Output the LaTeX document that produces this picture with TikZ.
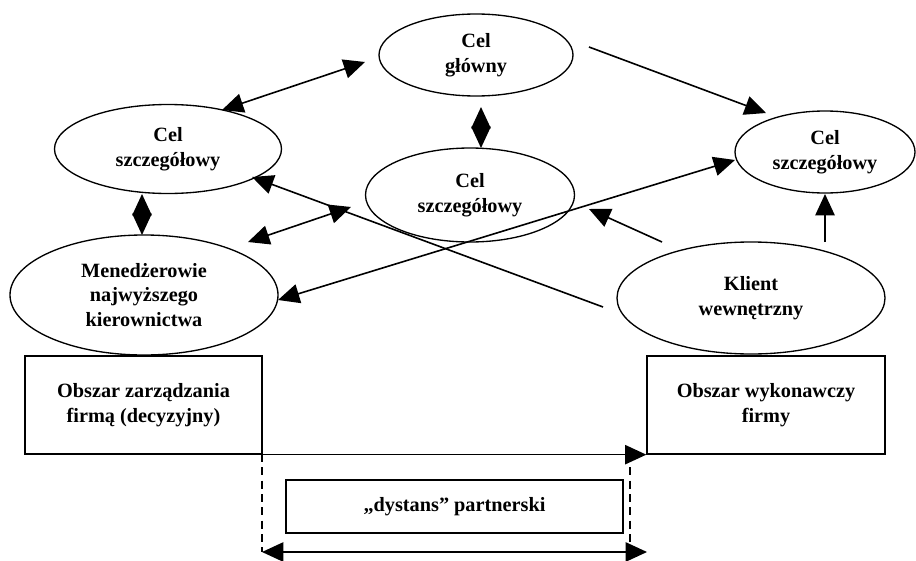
\documentclass[tikz,border=0pt]{standalone}
\usepackage{fontspec}
\setmainfont{Liberation Serif}[BoldFont={Liberation Serif Bold}]
\usetikzlibrary{shapes.geometric,arrows.meta}
\begin{document}
\begin{tikzpicture}[x=0.75pt,y=-0.75pt,
  every node/.style={font=\fontsize{15.2}{18.5}\selectfont\bfseries, align=center, inner sep=0pt},
  ell/.style={draw, ellipse, line width=1pt},
  box/.style={draw, rectangle, line width=1pt},
  conn/.style={line width=1.2pt, -{Triangle[length=16pt,width=14.5pt]}},
  conn2/.style={line width=1.2pt, {Triangle[length=16pt,width=14.5pt]}-{Triangle[length=16pt,width=14.5pt]}},
  dsh/.style={line width=1.2pt, dash pattern=on 6pt off 4pt}]
\useasboundingbox (0,0) rectangle (916,560);

% ellipses
\node[ell, minimum width=145.5pt, minimum height=61.5pt] (gl) at (476,55) {Cel\\główny};
\node[ell, minimum width=170.25pt, minimum height=66.75pt] (sl) at (168,149) {Cel\\szczegółowy};
\node[ell, minimum width=156.75pt, minimum height=70.5pt] (sm) at (470,195) {Cel\\szczegółowy};
\node[ell, minimum width=135pt, minimum height=61.5pt] (sr) at (825,152) {Cel\\szczegółowy};
\node[ell, minimum width=201pt, minimum height=90pt] (men) at (144,295) {Menedżerowie\\najwyższego\\kierownictwa};
\node[ell, minimum width=201pt, minimum height=84pt] (kl) at (751,298) {Klient\\wewnętrzny};

% boxes
\node[box, minimum width=177.75pt, minimum height=73.5pt] (oz) at (143.5,405) {Obszar zarządzania\\firmą (decyzyjny)};
\node[box, minimum width=178.5pt, minimum height=73.5pt] (ow) at (766,405) {Obszar wykonawczy\\firmy};
\node[box, minimum width=252.75pt, minimum height=39.75pt] (dy) at (454.5,506.5) {„dystans” partnerski};

% connector end points
\coordinate (sl-ne) at (222,110);
\coordinate (gl-w) at (365,62);
\coordinate (gl-e) at (589,47);
\coordinate (sr-nw) at (766,113);
\coordinate (gl-s) at (481,107);
\coordinate (sm-n) at (481,148);
\coordinate (sl-s) at (142,194);
\coordinate (men-n) at (142,235);
\coordinate (kl-ne) at (825,242);
\coordinate (sr-s) at (825,194);
\coordinate (kl-nw) at (662,242);
\coordinate (sm-se) at (589,209);
\coordinate (men-ne) at (248,242);
\coordinate (sm-w) at (351,207);
\coordinate (kl-w) at (603,307);
\coordinate (sl-se) at (252,177);
\coordinate (men-e) at (278,300);
\coordinate (sr-w) at (735,160);
\coordinate (dl-top) at (262,454);
\coordinate (dl-bot) at (262,552);
\coordinate (dr-top) at (630,454);
\coordinate (dr-bot) at (630,552);
\coordinate (ar-r) at (647,552);

% connectors
\draw[conn2] (sl-ne) -- (gl-w);
\draw[conn] (gl-e) -- (sr-nw);
\draw[conn2] (gl-s) -- (sm-n);
\draw[conn2] (sl-s) -- (men-n);
\draw[conn] (kl-ne) -- (sr-s);
\draw[conn] (kl-nw) -- (sm-se);
\draw[conn2] (men-ne) -- (sm-w);
\draw[conn] (kl-w) -- (sl-se);
\draw[conn2] (men-e) -- (sr-w);
\draw[conn] (oz.south east) -- (ow.south west);
\draw[dsh] (dl-top) -- (dl-bot);
\draw[dsh] (dr-top) -- (dr-bot);
\draw[conn2] (dl-bot) -- (ar-r);
\end{tikzpicture}
\end{document}
